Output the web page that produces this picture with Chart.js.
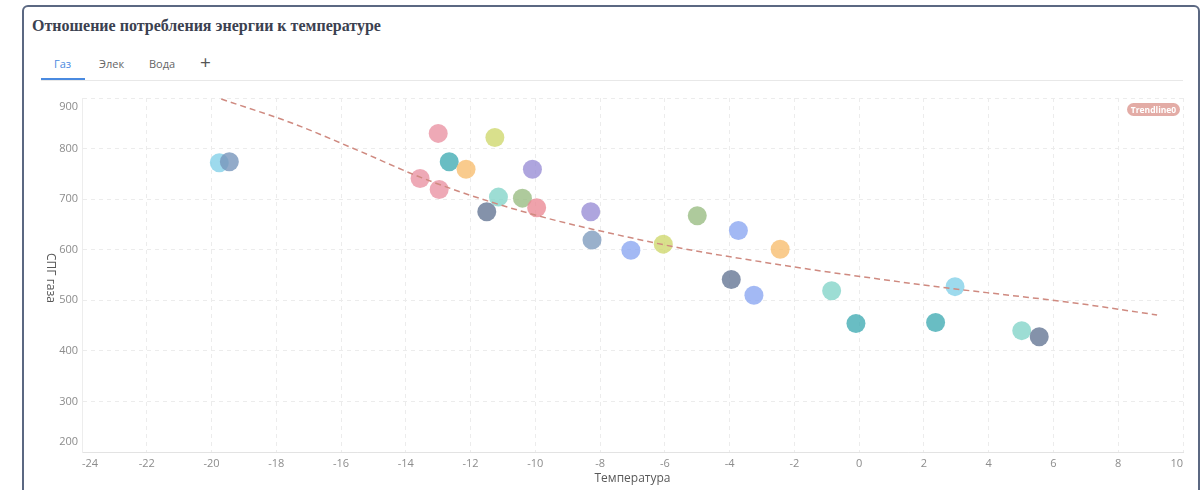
<!DOCTYPE html>
<html lang="ru">
<head>
<meta charset="utf-8">
<title>Отношение потребления энергии к температуре</title>
<script src="https://cdn.jsdelivr.net/npm/chart.js@4.4.1/dist/chart.umd.min.js"></script>
<style>
  html, body { margin: 0; padding: 0; background: #fff; width: 1202px; height: 490px; overflow: hidden; }
  .panel { position: absolute; left: 22px; top: 5px; width: 1174px; height: 520px; border: 2px solid #5b6882; border-radius: 6px; }
  .title { position: absolute; left: 32px; top: 17px; font: bold 16px "Liberation Serif", serif; line-height: 18px; color: #3b4150; white-space: nowrap; }
  .tab { position: absolute; top: 57px; font: 11px "Open Sans", sans-serif; line-height: 14px; color: #666; }
  .tab.active { color: #4a8ae0; }
  .plus { position: absolute; left: 200px; top: 52px; font: 19px "Open Sans", sans-serif; line-height: 20px; color: #555; }
  .ink { position: absolute; left: 41px; top: 78px; width: 44px; height: 2px; background: #4a8ae0; }
  .rule { position: absolute; left: 41px; top: 80px; width: 1142px; height: 1px; background: #e8e8e8; }
  .pill { position: absolute; left: 1127px; top: 103px; width: 53px; height: 13px; border-radius: 7px; background: #e3aca6;
          color: #fff; font: bold 8.5px "Open Sans", sans-serif; line-height: 13px; text-align: center; }
  canvas { position: absolute; left: 0; top: 0; }
</style>
</head>
<body>
<div class="panel"></div>
<div class="title">Отношение потребления энергии к температуре</div>
<span class="tab active" style="left:54px">Газ</span>
<span class="tab" style="left:99px">Элек</span>
<span class="tab" style="left:149px">Вода</span>
<span class="plus">+</span>
<div class="rule"></div>
<div class="ink"></div>
<canvas id="grafico" width="1202" height="490"></canvas>
<div class="pill">Trendline0</div>

<script>
// Точки: температура и СПГ газа
const tempValues = [-19.76, -19.45, -13.0, -11.25, -12.66, -12.14, -10.09, -13.56, -12.97, -11.14,
                    -10.4, -9.96, -11.5, -8.29, -8.25, -7.05, -6.05, -5.0, -3.73, -2.44,
                    -3.95, -3.25, -0.85, -0.1, 2.36, 2.96, 5.02, 5.56];
const gasValues = [772, 774, 830, 822, 774, 759, 759, 741, 719, 704,
                   702, 683, 675, 675, 619, 599, 611, 667, 638, 601,
                   541, 510, 519, 454, 456, 527, 440, 428];
const pointColors = [
  'rgba(132,209,232,0.8)', 'rgba(120,150,188,0.8)', 'rgba(234,147,164,0.8)', 'rgba(207,216,111,0.8)',
  'rgba(67,173,180,0.8)', 'rgba(247,190,113,0.8)', 'rgba(154,142,214,0.8)', 'rgba(234,147,164,0.8)',
  'rgba(234,147,164,0.8)', 'rgba(133,212,201,0.8)', 'rgba(154,189,131,0.8)', 'rgba(235,139,150,0.8)',
  'rgba(101,119,149,0.8)', 'rgba(154,142,214,0.8)', 'rgba(128,156,190,0.8)', 'rgba(140,167,241,0.8)',
  'rgba(207,216,111,0.8)', 'rgba(154,189,131,0.8)', 'rgba(140,167,241,0.8)', 'rgba(247,190,113,0.8)',
  'rgba(101,119,149,0.8)', 'rgba(140,167,241,0.8)', 'rgba(133,212,201,0.8)', 'rgba(67,173,180,0.8)',
  'rgba(67,173,180,0.8)', 'rgba(132,209,232,0.8)', 'rgba(133,212,201,0.8)', 'rgba(101,119,149,0.8)'
];

// Линия тренда (Trendline0)
const trendTemp = [-19.7, -17.5, -15.5, -13.5, -11.5, -9.5, -7.5, -5.5, -3.5, -1.5, 0.5, 2.5, 4.5, 6.5, 9.2];
const trendGas  = [898, 850, 797, 742, 697, 660, 630, 603, 581, 561, 543, 526, 511, 496, 471];

// Подписи осей
const xTicks = [-24, -22, -20, -18, -16, -14, -12, -10, -8, -6, -4, -2, 0, 2, 4, 6, 8, 10];
const yTicks = [200, 300, 400, 500, 600, 700, 800, 900];

const tickColor = '#8c8c8c';
const tickFont = { family: '"Open Sans", sans-serif', size: 11 };
const gridColor = '#ececec';

// Крайние подписи оси Y сдвинуты внутрь, как в оригинале
const yEdgeTicks = {
  id: 'yEdgeTicks',
  afterDraw(chart) {
    const y = chart.scales.y;
    const ctx = chart.ctx;
    ctx.save();
    ctx.font = '11px "Open Sans", sans-serif';
    ctx.fillStyle = tickColor;
    ctx.textAlign = 'right';
    ctx.textBaseline = 'middle';
    const first = yTicks[0], last = yTicks[yTicks.length - 1];
    ctx.fillText(String(last), y.right - 4, y.getPixelForValue(last) + 9);
    ctx.fillText(String(first), y.right - 4, y.getPixelForValue(first) - 10);
    ctx.restore();
  }
};

// Заголовок оси Y, повернут по часовой стрелке
const yTitle = {
  id: 'yTitle',
  afterDraw(chart) {
    const { ctx, chartArea } = chart;
    ctx.save();
    ctx.translate(50, (chartArea.top + chartArea.bottom) / 2 + 3);
    ctx.rotate(Math.PI / 2);
    ctx.font = '12px "Open Sans", sans-serif';
    ctx.fillStyle = '#595959';
    ctx.textAlign = 'center';
    ctx.textBaseline = 'middle';
    ctx.fillText('СПГ газа', 0, 0);
    ctx.restore();
  }
};

new Chart(document.getElementById('grafico').getContext('2d'), {
  type: 'scatter',
  data: {
    datasets: [
      {
        label: 'Газ',
        data: tempValues.map((t, i) => ({ x: t, y: gasValues[i] })),
        backgroundColor: pointColors,
        borderWidth: 0,
        pointRadius: 9.5,
        pointHoverRadius: 9.5,
        order: 1
      },
      {
        label: 'Trendline0',
        data: trendTemp.map((t, i) => ({ x: t, y: trendGas[i] })),
        showLine: true,
        borderColor: '#cf8a80',
        borderWidth: 1.5,
        borderDash: [6, 4],
        pointRadius: 0,
        tension: 0.4,
        cubicInterpolationMode: 'monotone',
        order: 0
      }
    ]
  },
  options: {
    responsive: false,
    animation: false,
    layout: { padding: { top: 98, right: 19, left: 0, bottom: 0 } },
    plugins: { legend: { display: false }, tooltip: { enabled: false } },
    scales: {
      x: {
        type: 'linear',
        min: -24,
        max: 10,
        afterBuildTicks: s => { s.ticks = xTicks.map(v => ({ value: v })); },
        afterFit: s => { s.height = 38; },
        grid: { color: gridColor, drawTicks: false },
        border: { color: '#e3e3e3', dash: [4, 4] },
        ticks: { align: 'inner', padding: 5, color: tickColor, font: tickFont },
        title: {
          display: true,
          text: 'Температура',
          color: '#595959',
          font: { family: '"Open Sans", sans-serif', size: 12 },
          padding: { top: 0, bottom: 4 }
        }
      },
      y: {
        min: 200,
        max: 900,
        afterBuildTicks: s => { s.ticks = yTicks.map(v => ({ value: v })); },
        afterFit: s => { s.width = 82; },
        grid: { color: gridColor, drawTicks: false },
        border: { color: '#ededed', dash: [4, 4] },
        ticks: {
          padding: 4,
          font: tickFont,
          color: c => (c.tick && (c.tick.value === yTicks[0] || c.tick.value === yTicks[yTicks.length - 1])) ? 'rgba(0,0,0,0)' : tickColor
        }
      }
    }
  },
  plugins: [yEdgeTicks, yTitle]
});
</script>
</body>
</html>
